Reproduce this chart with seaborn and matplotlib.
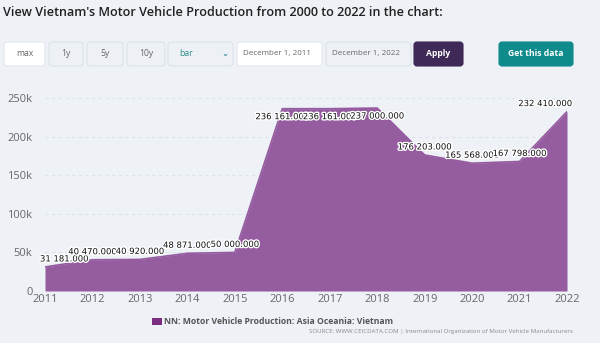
import matplotlib
matplotlib.use("Agg")
import matplotlib.pyplot as plt
import seaborn as sns
import pandas as pd
from matplotlib.patches import FancyBboxPatch, Rectangle
import matplotlib.patheffects as pe

# Vietnam motor vehicle production (units)
years = [2011, 2012, 2013, 2014, 2015, 2016, 2017, 2018, 2019, 2020, 2021, 2022]
production = [31181, 40470, 40920, 48871, 50000, 236161, 236161, 237000,
              176203, 165568, 167798, 232410]
y_ticks = [0, 50000, 100000, 150000, 200000, 250000]
y_tick_labels = ["0", "50k", "100k", "150k", "200k", "250k"]
series_name = "NN: Motor Vehicle Production: Asia Oceania: Vietnam"
source_text = ("SOURCE: WWW.CEICDATA.COM | International Organization of "
               "Motor Vehicle Manufacturers")
title_text = "View Vietnam's Motor Vehicle Production from 2000 to 2022 in the chart:"

df = pd.DataFrame({"year": years, "production": production})

BG = "#eef2f7"
FILL = "#955ca0"
LEGEND_SWATCH = "#7b2d80"

sns.set_theme(style="white")
plt.rcParams["font.family"] = ["Open Sans", "DejaVu Sans"]

W, H, DPI = 600, 343, 100
fig = plt.figure(figsize=(W / DPI, H / DPI), dpi=DPI, facecolor=BG)


def inch(x, y):
    """Pixel position (from top-left) to inches for dpi_scale_trans."""
    return x / DPI, (H - y) / DPI


# ---- header -------------------------------------------------------------
fig.text(*inch(3, 12.5), title_text, transform=fig.dpi_scale_trans,
         fontsize=9.1, fontweight="semibold", color="#222222",
         ha="left", va="center")

buttons = [
    # x0, x1, label, face, edge, text color, bold
    (4, 45, "max", "#ffffff", "#e2e7ee", "#666666", False),
    (49, 83, "1y", "#edf1f5", "#dde3ea", "#666666", False),
    (87, 123, "5y", "#edf1f5", "#dde3ea", "#666666", False),
    (127, 165, "10y", "#edf1f5", "#dde3ea", "#666666", False),
    (168, 233, "bar", "#edf1f5", "#dde3ea", "#2b8a8a", False),
    (237, 322, "December 1, 2011", "#ffffff", "#e2e7ee", "#666666", False),
    (326, 411, "December 1, 2022", "#edf1f5", "#dde3ea", "#666666", False),
    (414, 463, "Apply", "#3e2957", "#3e2957", "#ffffff", True),
    (499, 573, "Get this data", "#0f8b8b", "#0f8b8b", "#ffffff", True),
]
by0, by1 = 42, 66
for x0, x1, label, face, edge, tcol, bold in buttons:
    bx, byb = inch(x0 + 2, by1 - 2)
    box = FancyBboxPatch((bx, byb), (x1 - x0 - 4) / DPI, (by1 - by0 - 4) / DPI,
                         boxstyle="round,pad=0.02,rounding_size=0.03",
                         transform=fig.dpi_scale_trans, facecolor=face,
                         edgecolor=edge, linewidth=0.8)
    fig.patches.append(box)
    cy = (by0 + by1) / 2
    if label == "bar":
        fig.text(*inch(x0 + 11, cy), label, transform=fig.dpi_scale_trans,
                 fontsize=6.2, color=tcol, ha="left", va="center")
        fig.text(*inch(x1 - 5, cy), "\u2304", transform=fig.dpi_scale_trans,
                 fontsize=6, color=tcol, ha="right", va="center",
                 family=["DejaVu Sans"], fontweight="bold")
    elif label.startswith("December"):
        fig.text(*inch(x0 + 6, cy), label, transform=fig.dpi_scale_trans,
                 fontsize=5.8, color=tcol, ha="left", va="center")
    else:
        fig.text(*inch((x0 + x1) / 2, cy), label, transform=fig.dpi_scale_trans,
                 fontsize=6.2 if bold else 6.2, color=tcol, ha="center",
                 va="center", fontweight="bold" if bold else "normal")

# ---- chart --------------------------------------------------------------
ax_l, ax_r, ax_b, ax_t = 45, 567, 291, 98
ax = fig.add_axes([ax_l / W, (H - ax_b) / H, (ax_r - ax_l) / W, (ax_b - ax_t) / H])
ax.set_facecolor(BG)

ax.fill_between(df["year"], df["production"], 0, color=FILL, linewidth=0,
                zorder=2)
sns.lineplot(data=df, x="year", y="production", ax=ax, color=FILL,
             linewidth=1.2, zorder=3)

ax.set_xlim(years[0], years[-1])
ax.set_ylim(0, 250000)
ax.set_xticks(years)
ax.set_xticklabels([str(y) for y in years])
ax.set_yticks(y_ticks)
ax.set_yticklabels(y_tick_labels)
ax.set_xlabel("")
ax.set_ylabel("")
for s in ax.spines.values():
    s.set_visible(False)
ax.grid(axis="y", color="#dde3ea", linestyle=(0, (3, 3)), linewidth=0.8,
        zorder=1)
ax.grid(axis="x", visible=False)
ax.tick_params(axis="y", length=0, pad=9, labelsize=8, labelcolor="#666666")
ax.tick_params(axis="x", length=0, pad=2.5, labelsize=8, labelcolor="#666666")

# value labels: above each point, flipped under it when it would leave the plot
px_per_unit = (ax_b - ax_t) / 250000
offset_px = 8
half_h = 5
outline = [pe.withStroke(linewidth=2, foreground="white")]
for i, (yr, val) in enumerate(zip(years, production)):
    top_px = ax_b - val * px_per_unit - offset_px - half_h
    dy = -offset_px if top_px < ax_t else offset_px
    ha, dx = "center", 0
    if i == 0:
        ha, dx = "left", -5
    elif i == len(years) - 1:
        ha, dx = "right", 5
    ax.annotate(f"{val // 1000} {val % 1000:03d}.000", (yr, val),
                xytext=(dx * 0.72, dy * 0.72), textcoords="offset points",
                ha=ha, va="center", fontsize=6.1, color="#111111",
                family=["DejaVu Sans"], path_effects=outline,
                annotation_clip=False, zorder=5)

# ---- legend & source ----------------------------------------------------
sx, sy = inch(152, 324.5)
fig.patches.append(Rectangle((sx, sy), 10 / DPI, 6.5 / DPI,
                             transform=fig.dpi_scale_trans,
                             facecolor=LEGEND_SWATCH, edgecolor="none"))
fig.text(*inch(164, 321.5), series_name, transform=fig.dpi_scale_trans,
         fontsize=6.2, fontweight="bold", color="#555555", ha="left", va="center")
fig.text(*inch(573, 331), source_text, transform=fig.dpi_scale_trans,
         fontsize=4.4, color="#888888", ha="right", va="center")

fig.savefig("out.png", dpi=DPI, facecolor=BG)
